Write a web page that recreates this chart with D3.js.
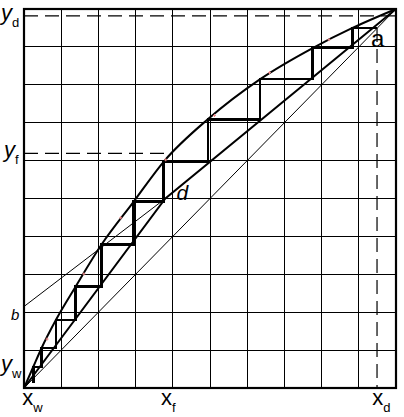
<!DOCTYPE html>
<html><head><meta charset="utf-8">
<script src="https://cdn.jsdelivr.net/npm/d3@7/dist/d3.min.js"></script>
<style>body{margin:0;background:#fff;} svg{display:block;}</style>
</head><body>
<svg id="c" width="404" height="417"></svg>
<script>
// ---------- data ----------
const gridTicks = [0, 0.1, 0.2, 0.3, 0.4, 0.5, 0.6, 0.7, 0.8, 0.9, 1];
// equilibrium curve
const eqX = [0, 0.025, 0.047, 0.086, 0.139, 0.208, 0.295, 0.378, 0.494, 0.635, 0.776, 0.883, 1];
const eqY = [0, 0.056, 0.105, 0.180, 0.268, 0.378, 0.492, 0.600, 0.709, 0.815, 0.897, 0.950, 1];
// small red marks on equilibrium curve
const markX = [0.062, 0.161, 0.260, 0.381, 0.512, 0.660, 0.820];
const markY = [0.129, 0.301, 0.449, 0.602, 0.719, 0.832, 0.919];
// operating lines (stripping + rectifying), meeting at d
const opX = [0, 0.38, 1];
const opY = [0, 0.50, 1];
// thin line from b to d
const bLineX = [0, 0.38];
const bLineY = [0.215, 0.50];
// diagonal y = x
const diagX = [0, 1];
const diagY = [0, 1];
// staircase
const stairStart = 0.949;
const stairX = [0.883, 0.776, 0.635, 0.494, 0.375, 0.295, 0.208, 0.139, 0.086, 0.047, 0.025];
const stairY = [0.950, 0.897, 0.815, 0.709, 0.598, 0.492, 0.378, 0.268, 0.180, 0.105, 0.056];
const stairEnd = 0.013;
// special values
const xw = 0.023, xf = 0.388, xd = 0.961;   // label centres
const xdLine = 0.949, ydLine = 0.982, yfLine = 0.619, xfPoint = 0.40;
const yLabelVals = [0.982, 0.619, 0.056];
const yLabelSubs = ['d', 'f', 'w'];
const xLabelVals = [xw, xf, xd];
const xLabelSubs = ['w', 'f', 'd'];
const bVal = 0.215;
const dLabelAt = [0.41, 0.50];
const aPoint = [0.949, 0.950];

// ---------- drawing ----------
const svg = d3.select('#c');
const x = d3.scaleLinear().domain([0, 1]).range([24, 396]);
const y = d3.scaleLinear().domain([0, 1]).range([388, 9]);

const g = svg.append('g');

// grid
g.selectAll('line.v').data(gridTicks).join('line')
  .attr('x1', d => x(d)).attr('x2', d => x(d))
  .attr('y1', y(0)).attr('y2', y(1))
  .attr('stroke', '#000').attr('stroke-width', 1).attr('shape-rendering', 'crispEdges');
g.selectAll('line.h').data(gridTicks).join('line')
  .attr('y1', d => y(d)).attr('y2', d => y(d))
  .attr('x1', x(0)).attr('x2', x(1))
  .attr('stroke', '#000').attr('stroke-width', 1).attr('shape-rendering', 'crispEdges');

// dashed lines
const dash = '14,7';
g.append('line').attr('x1', x(0)).attr('x2', x(1)).attr('y1', y(ydLine)).attr('y2', y(ydLine))
  .attr('stroke', '#000').attr('stroke-width', 1.2).attr('stroke-dasharray', dash);
g.append('line').attr('x1', x(0)).attr('x2', x(xfPoint)).attr('y1', y(yfLine)).attr('y2', y(yfLine))
  .attr('stroke', '#000').attr('stroke-width', 1.2).attr('stroke-dasharray', dash);
g.append('line').attr('x1', x(xdLine)).attr('x2', x(xdLine)).attr('y1', y(stairY[0])).attr('y2', y(0))
  .attr('stroke', '#000').attr('stroke-width', 1.2).attr('stroke-dasharray', dash);

const line = d3.line().x(d => x(d[0])).y(d => y(d[1]));

// diagonal and b-line (thin)
g.append('path').attr('d', line(d3.zip(diagX, diagY)))
  .attr('fill', 'none').attr('stroke', '#000').attr('stroke-width', 1);
g.append('path').attr('d', line(d3.zip(bLineX, bLineY)))
  .attr('fill', 'none').attr('stroke', '#000').attr('stroke-width', 1);

// operating lines (thick)
g.append('path').attr('d', line(d3.zip(opX, opY)))
  .attr('fill', 'none').attr('stroke', '#000').attr('stroke-width', 2);

// equilibrium curve
const curveLine = d3.line().x(d => x(d[0])).y(d => y(d[1])).curve(d3.curveMonotoneX);
g.append('path').attr('d', curveLine(d3.zip(eqX, eqY)))
  .attr('fill', 'none').attr('stroke', '#000').attr('stroke-width', 2);

// staircase
const stairPts = [[stairStart, stairY[0]]];
stairX.forEach((sx, i) => {
  stairPts.push([sx, stairY[i]]);
  stairPts.push([sx, i + 1 < stairY.length ? stairY[i + 1] : stairEnd]);
});
g.append('path').attr('d', line(stairPts))
  .attr('fill', 'none').attr('stroke', '#000').attr('stroke-width', 2.5)
  .attr('shape-rendering', 'crispEdges');

// red marks
const marks = g.selectAll('g.mk').data(d3.zip(markX, markY)).join('g')
  .attr('transform', d => `translate(${x(d[0])},${y(d[1])})`);
marks.append('line').attr('x1', -1.5).attr('x2', 1.5).attr('y1', 0).attr('y2', 0)
  .attr('stroke', '#f08a8a').attr('stroke-width', 1);
marks.append('line').attr('y1', -1.5).attr('y2', 1.5).attr('x1', 0).attr('x2', 0)
  .attr('stroke', '#f08a8a').attr('stroke-width', 1);

// frame
g.append('rect').attr('x', x(0)).attr('y', y(1))
  .attr('width', x(1) - x(0)).attr('height', y(0) - y(1))
  .attr('fill', 'none').attr('stroke', '#000').attr('stroke-width', 2.2);

// labels
const font = '"Liberation Sans", Arial, sans-serif';
yLabelVals.forEach((v, i) => {
  const t = svg.append('text').attr('x', i === 1 ? 4 : 1).attr('y', y(v) + 4)
    .attr('font-family', font).attr('font-size', 22).attr('fill', '#000');
  t.append('tspan').attr('font-style', 'italic').text('y');
  t.append('tspan').attr('font-size', 13).attr('dy', 7).text(yLabelSubs[i]);
});
xLabelVals.forEach((v, i) => {
  const t = svg.append('text').attr('x', x(v)).attr('y', 405)
    .attr('text-anchor', 'middle')
    .attr('font-family', font).attr('font-size', 22).attr('fill', '#000');
  t.append('tspan').text('x');
  t.append('tspan').attr('font-size', 13).attr('dy', 7).text(xLabelSubs[i]);
});
svg.append('text').attr('x', 11).attr('y', y(bVal) + 13)
  .attr('font-family', font).attr('font-size', 15).attr('font-style', 'italic').text('b');
svg.append('text').attr('x', x(dLabelAt[0])).attr('y', y(dLabelAt[1]) + 1)
  .attr('font-family', font).attr('font-size', 21).attr('font-style', 'italic').text('d');
svg.append('text').attr('x', x(aPoint[0]) - 6).attr('y', y(aPoint[1]) + 19)
  .attr('font-family', font).attr('font-size', 24).text('a');
</script>
</body></html>
